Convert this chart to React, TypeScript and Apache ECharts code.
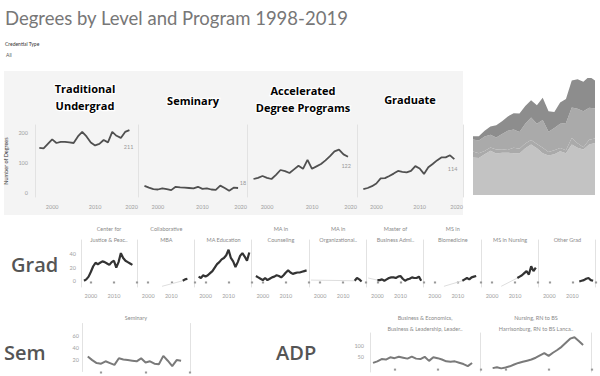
import React, { useEffect, useRef } from "react";
import * as echarts from "echarts";

// ---------- data ----------
const YEARS = [1997, 1998, 1999, 2000, 2001, 2002, 2003, 2004, 2005, 2006, 2007, 2008, 2009, 2010, 2011, 2012, 2013, 2014, 2015, 2016, 2017, 2018];
const TRAD = [152, 150, 165, 180, 168, 172, 172, 170, 168, 190, 205, 190, 170, 160, 165, 178, 170, 205, 192, 185, 205, 211];
const SEMINARY = [25, 19, 14, 13, 17, 14, 11, 22, 20, 19, 18, 17, 22, 15, 17, 13, 12, 26, 18, 9, 19, 18];
const ADP = [48, 52, 58, 52, 48, 62, 78, 74, 68, 80, 92, 82, 112, 82, 90, 98, 110, 124, 140, 146, 130, 122];
const GRADUATE = [14, 18, 24, 33, 50, 51, 58, 66, 75, 72, 70, 75, 91, 83, 65, 87, 98, 110, 120, 120, 127, 114];

const TOP_TITLES = ["Traditional\nUndergrad", "Seminary", "Accelerated\nDegree Programs", "Graduate"];
const TOP_TICKS_X = [2000, 2010, 2020];
const TOP_TICKS_Y = [0, 100, 200];

const GRAD_TITLES = [
  "Center for\nJustice & Peac..",
  "Collaborative\nMBA",
  "MA Education",
  "MA in\nCounseling",
  "MA in\nOrganizational..",
  "Master of\nBusiness Admi..",
  "MS in\nBiomedicine",
  "MS in Nursing",
  "Other Grad",
];
const JUSTICE_YEARS = [1997, 1998, 1999, 2000, 2001, 2002, 2003, 2004, 2005, 2006, 2007, 2008, 2009, 2010, 2011, 2012, 2013, 2014, 2015, 2016, 2017, 2018];
const JUSTICE = [1, 3, 7, 14, 22, 27, 25, 27, 29, 28, 26, 24, 28, 30, 20, 28, 41, 34, 30, 28, 26, 24];
const COLLAB_MBA_YEARS = [2015, 2016, 2017];
const COLLAB_MBA = [1, 3, 4];
const MA_ED_YEARS = [1997, 1998, 1999, 2000, 2001, 2002, 2003, 2004, 2005, 2006, 2007, 2008, 2009, 2010, 2011, 2012, 2013, 2014, 2015, 2016, 2017, 2018, 2019];
const MA_ED = [7, 5, 9, 7, 9, 12, 15, 20, 25, 28, 32, 34, 38, 46, 34, 29, 21, 28, 37, 41, 36, 30, 42];
const COUNSELING_YEARS = [1997, 1998, 1999, 2000, 2001, 2002, 2003, 2004, 2005, 2006, 2007, 2008, 2009, 2010, 2011, 2012, 2013, 2014, 2015, 2016, 2017, 2018, 2019];
const COUNSELING = [8, 6, 4, 2, 5, 2, 4, 6, 7, 9, 8, 6, 9, 13, 16, 13, 11, 12, 13, 13, 14, 15, 16];
const ORG_YEARS = [2015, 2016, 2017, 2018];
const ORG = [1, 5, 3, 0];
const MBA_YEARS = [2000, 2001, 2002, 2003, 2004, 2005, 2006, 2007, 2008, 2009, 2010, 2011, 2012, 2013, 2014, 2015, 2016, 2017, 2018, 2019];
const MBA = [2, 2, 3, 1, 3, 5, 6, 6, 5, 7, 8, 4, 1, 3, 4, 6, 5, 5, 7, 1];
const BIOMED_YEARS = [2012, 2013, 2014, 2015, 2016, 2017, 2018];
const BIOMED = [1, 3, 5, 3, 6, 7, 8];
const NURSING_MS_YEARS = [2011, 2012, 2013, 2014, 2015, 2016, 2017, 2018, 2019];
const NURSING_MS = [5, 7, 9, 12, 15, 10, 22, 15, 20];
const OTHER_GRAD_YEARS = [2013, 2014, 2015, 2016, 2017, 2018, 2019];
const OTHER_GRAD = [0, 1, 2, 4, 5, 2, 1];

// faint connectors drawn by the source tool across missing years: [fromYear, fromValue, toYear, toValue]
const FAINT_COLLAB = [2006, -7, 2015, 1];
const FAINT_ORG = [1996, 2, 2015, 1];
const FAINT_MBA = [1996, 5, 2000, 2];
const FAINT_BIOMED = [2004, -7, 2012, 1];
const FAINT_NURSING = [2004, -7, 2011, 5];

const BUS_YEARS = [1995, 1996, 1997, 1998, 1999, 2000, 2001, 2002, 2003, 2004, 2005, 2006, 2007, 2008, 2009, 2010, 2011, 2012, 2013, 2014, 2015, 2016, 2017, 2018];
const BUS = [25, 32, 42, 40, 50, 46, 52, 48, 44, 53, 44, 42, 52, 34, 50, 46, 40, 32, 30, 32, 26, 20, 11, 25];
const RN_YEARS = [1997, 1998, 1999, 2000, 2001, 2002, 2003, 2004, 2005, 2006, 2007, 2008, 2009, 2010, 2011, 2012, 2013, 2014, 2015, 2016, 2017, 2018];
const RN = [2, 6, 1, 5, 10, 18, 25, 30, 35, 40, 48, 58, 68, 56, 70, 82, 96, 114, 132, 138, 122, 104];
const ADP_TITLES = ["Business & Economics,\nBusiness & Leadership, Leader..", "Nursing, RN to BS\nHarrisonburg, RN to BS Lanca.."];

const SMALL_TICKS_X = [2000, 2010, 2020];
const SMALL_LABELS_X = [2000, 2010];

const FONT = "Lato, 'Open Sans', sans-serif";
const FONT_B = "'Open Sans', Lato, sans-serif";

const pairs = (xs: number[], ys: number[]) => xs.map((x, i) => [x, ys[i]]);
const plain = (v: number) => String(v);

export default function App() {
  const ref = useRef<HTMLDivElement>(null);
  useEffect(() => {
    if (!ref.current) return;
    const chart = echarts.init(ref.current, null, { renderer: "svg" });

    const grids: any[] = [];
    const xAxes: any[] = [];
    const yAxes: any[] = [];
    const series: any[] = [];
    const graphics: any[] = [];
    const sepColor = "#e2e2e2";
    const lblColor = "#a0a0a0";

    const addRightLine = (gi: number) => {
      yAxes.push({
        gridIndex: gi, type: "value", position: "right", min: 0, max: 1,
        axisLine: { show: true, lineStyle: { color: sepColor } },
        axisTick: { show: false }, axisLabel: { show: false }, splitLine: { show: false },
      });
    };

    // ---------- top panel ----------
    graphics.push({ type: "rect", z: -100, shape: { x: 4, y: 71, width: 459, height: 144 }, style: { fill: "#f4f4f4" } });
    const topPanes = [
      { left: 35, width: 103 },
      { left: 140, width: 107 },
      { left: 249, width: 108 },
      { left: 359, width: 104 },
    ];
    const topData = [TRAD, SEMINARY, ADP, GRADUATE];
    const topOffsets = [[4, 17], [8, -5], [3, 9], [3, 10]];
    const topTitlePos = [[85, 96.5], [193, 100], [303, 98.5], [410, 99]];
    topPanes.forEach((p, i) => {
      const gi = grids.length;
      grids.push({ left: p.left, top: 125, width: p.width, height: 72 });
      xAxes.push({
        gridIndex: gi, type: "value", min: 1996, max: 2020,
        axisLine: { show: false }, axisTick: { show: false }, splitLine: { show: false },
        axisLabel: { customValues: TOP_TICKS_X, formatter: plain, fontSize: 5.5, color: lblColor, margin: 7, fontFamily: FONT, alignMaxLabel: "right" },
      });
      const yi = yAxes.length;
      yAxes.push({
        gridIndex: gi, type: "value", min: -12, max: 228,
        axisLine: { show: i === 0, lineStyle: { color: sepColor } },
        axisTick: { show: false }, splitLine: { show: false },
        axisLabel: i === 0 ? { customValues: TOP_TICKS_Y, formatter: plain, fontSize: 5.5, color: lblColor, margin: 7, fontFamily: FONT } : { show: false },
        name: i === 0 ? "Number of Degrees" : "",
        nameLocation: "middle", nameRotate: 90, nameGap: 26,
        nameTextStyle: { fontSize: 5.5, color: "#333", fontFamily: FONT },
      });
      addRightLine(gi);
      series.push({
        type: "line", xAxisIndex: gi, yAxisIndex: yi, symbol: "none",
        data: pairs(YEARS, topData[i]),
        lineStyle: { color: "#505050", width: 1.8 },
        endLabel: {
          show: true, formatter: (pp: any) => String(pp.value[1]), fontSize: 5.5, color: "#999",
          fontFamily: FONT, align: "right", distance: 0, offset: topOffsets[i],
        },
      });
      graphics.push({
        type: "text", x: topTitlePos[i][0], y: topTitlePos[i][1],
        style: {
          text: TOP_TITLES[i], fontSize: 11, fontWeight: "bold", fontFamily: FONT_B, fill: "#000",
          align: "center", verticalAlign: "middle", lineHeight: 17, stroke: "#fff", lineWidth: 2.5,
        },
      });
    });

    // ---------- stacked area ----------
    {
      const gi = grids.length;
      grids.push({ left: 473, top: 78, width: 122, height: 117 });
      xAxes.push({ gridIndex: gi, type: "category", data: YEARS, boundaryGap: false, show: false });
      const yi = yAxes.length;
      yAxes.push({ gridIndex: gi, type: "value", min: 0, max: 475, show: false });
      const layers = [
        { d: TRAD, c: "#c3c3c3" },
        { d: SEMINARY, c: "#aaaaaa" },
        { d: ADP, c: "#aaaaaa" },
        { d: GRADUATE, c: "#8d8d8d" },
      ];
      layers.forEach((l) => {
        series.push({
          type: "line", xAxisIndex: gi, yAxisIndex: yi, stack: "all", symbol: "none",
          data: l.d, lineStyle: { width: 0 }, areaStyle: { color: l.c, opacity: 1 },
        });
      });
    }

    // ---------- Grad row ----------
    const gradData = [
      pairs(JUSTICE_YEARS, JUSTICE),
      pairs(COLLAB_MBA_YEARS, COLLAB_MBA),
      pairs(MA_ED_YEARS, MA_ED),
      pairs(COUNSELING_YEARS, COUNSELING),
      pairs(ORG_YEARS, ORG),
      pairs(MBA_YEARS, MBA),
      pairs(BIOMED_YEARS, BIOMED),
      pairs(NURSING_MS_YEARS, NURSING_MS),
      pairs(OTHER_GRAD_YEARS, OTHER_GRAD),
    ];
    const faint: Record<number, number[]> = { 1: FAINT_COLLAB, 4: FAINT_ORG, 5: FAINT_MBA, 6: FAINT_BIOMED, 7: FAINT_NURSING };

    const smallX = (gi: number, min: number, labels: boolean) => ({
      gridIndex: gi, type: "value", min, max: 2020,
      axisLine: { show: false }, splitLine: { show: false },
      axisTick: { show: true, customValues: SMALL_TICKS_X, length: 2, lineStyle: { color: "#999", width: 2.2 } },
      axisLabel: labels ? { customValues: SMALL_LABELS_X, formatter: plain, fontSize: 5.5, color: lblColor, margin: 6, fontFamily: FONT } : { show: false },
    });

    GRAD_TITLES.forEach((t, i) => {
      const gi = grids.length;
      const left = 81 + i * 57.3;
      grids.push({ left, top: 240, width: 56, height: 47 });
      xAxes.push(smallX(gi, 1995.7, true));
      const yi = yAxes.length;
      yAxes.push({
        gridIndex: gi, type: "value", min: -8, max: 60,
        axisLine: { show: i === 0, lineStyle: { color: sepColor } },
        axisTick: { show: false }, splitLine: { show: false },
        axisLabel: i === 0 ? { customValues: [0, 20, 40], formatter: plain, fontSize: 5.5, color: lblColor, margin: 5, fontFamily: FONT } : { show: false },
      });
      addRightLine(gi);
      if (faint[i]) {
        const f = faint[i];
        series.push({
          type: "line", xAxisIndex: gi, yAxisIndex: yi, symbol: "none",
          data: [[f[0], f[1]], [f[2], f[3]]], lineStyle: { color: "#dedede", width: 1 },
        });
      }
      series.push({
        type: "line", xAxisIndex: gi, yAxisIndex: yi, symbol: "none",
        data: gradData[i], lineStyle: { color: "#333", width: 2.2 },
      });
      graphics.push({
        type: "text", x: left + 28, y: 245.5,
        style: { text: t, fontSize: 5.5, fontFamily: FONT, fill: "#8a8a8a", align: "center", verticalAlign: "bottom", lineHeight: 11 },
      });
    });

    // ---------- Sem row ----------
    {
      const gi = grids.length;
      grids.push({ left: 82, top: 323.5, width: 108, height: 48 });
      xAxes.push(smallX(gi, 1995.7, false));
      const yi = yAxes.length;
      yAxes.push({
        gridIndex: gi, type: "value", min: 0, max: 80,
        axisLine: { show: true, lineStyle: { color: sepColor } },
        axisTick: { show: false }, splitLine: { show: false },
        axisLabel: { customValues: [20, 40, 60], formatter: plain, fontSize: 5.5, color: lblColor, margin: 3, fontFamily: FONT },
      });
      addRightLine(gi);
      series.push({
        type: "line", xAxisIndex: gi, yAxisIndex: yi, symbol: "none",
        data: pairs(YEARS, SEMINARY), lineStyle: { color: "#7a7a7a", width: 2 },
      });
      graphics.push({
        type: "text", x: 136, y: 318,
        style: { text: "Seminary", fontSize: 5.5, fontFamily: FONT, fill: "#8a8a8a", align: "center", verticalAlign: "middle" },
      });
    }

    // ---------- ADP row ----------
    const adpData = [pairs(BUS_YEARS, BUS), pairs(RN_YEARS, RN)];
    [370, 481].forEach((left, i) => {
      const gi = grids.length;
      grids.push({ left, top: 333, width: 110.7, height: 39 });
      xAxes.push(smallX(gi, 1994.3, false));
      const yi = yAxes.length;
      yAxes.push({
        gridIndex: gi, type: "value", min: -15, max: 157,
        axisLine: { show: i === 0, lineStyle: { color: sepColor } },
        axisTick: { show: false }, splitLine: { show: false },
        axisLabel: i === 0 ? { customValues: [50, 100], formatter: plain, fontSize: 5.5, color: lblColor, margin: 6, fontFamily: FONT } : { show: false },
      });
      addRightLine(gi);
      series.push({
        type: "line", xAxisIndex: gi, yAxisIndex: yi, symbol: "none",
        data: adpData[i], lineStyle: { color: "#7a7a7a", width: 2 },
      });
      graphics.push({
        type: "text", x: left + 55, y: 334,
        style: { text: ADP_TITLES[i], fontSize: 5.5, fontFamily: FONT, fill: "#8a8a8a", align: "center", verticalAlign: "bottom", lineHeight: 11 },
      });
    });

    // ---------- headings ----------
    const rowLabel = { fontSize: 20, fontFamily: FONT_B, fontWeight: 600, fill: "#555", verticalAlign: "middle" };
    graphics.push(
      { type: "text", x: 5, y: 18, style: { text: "Degrees by Level and Program 1998-2019", fontSize: 18.5, fontFamily: FONT, fill: "#777", verticalAlign: "middle" } },
      { type: "text", x: 5, y: 44, style: { text: "Credential Type", fontSize: 5, fontFamily: FONT, fill: "#333", verticalAlign: "middle" } },
      { type: "text", x: 6, y: 55, style: { text: "All", fontSize: 5, fontFamily: FONT, fill: "#555", verticalAlign: "middle" } },
      { type: "text", x: 11, y: 264, style: { ...rowLabel, text: "Grad" } },
      { type: "text", x: 4, y: 352, style: { ...rowLabel, text: "Sem" } },
      { type: "text", x: 276, y: 352, style: { ...rowLabel, text: "ADP" } },
    );

    chart.setOption({
      animation: false,
      backgroundColor: "#fff",
      textStyle: { fontFamily: FONT },
      grid: grids,
      xAxis: xAxes,
      yAxis: yAxes,
      series,
      graphic: { elements: graphics },
    });
    return () => chart.dispose();
  }, []);
  return <div ref={ref} style={{ position: "fixed", left: 0, top: 0, width: 600, height: 376, background: "#fff" }} />;
}
